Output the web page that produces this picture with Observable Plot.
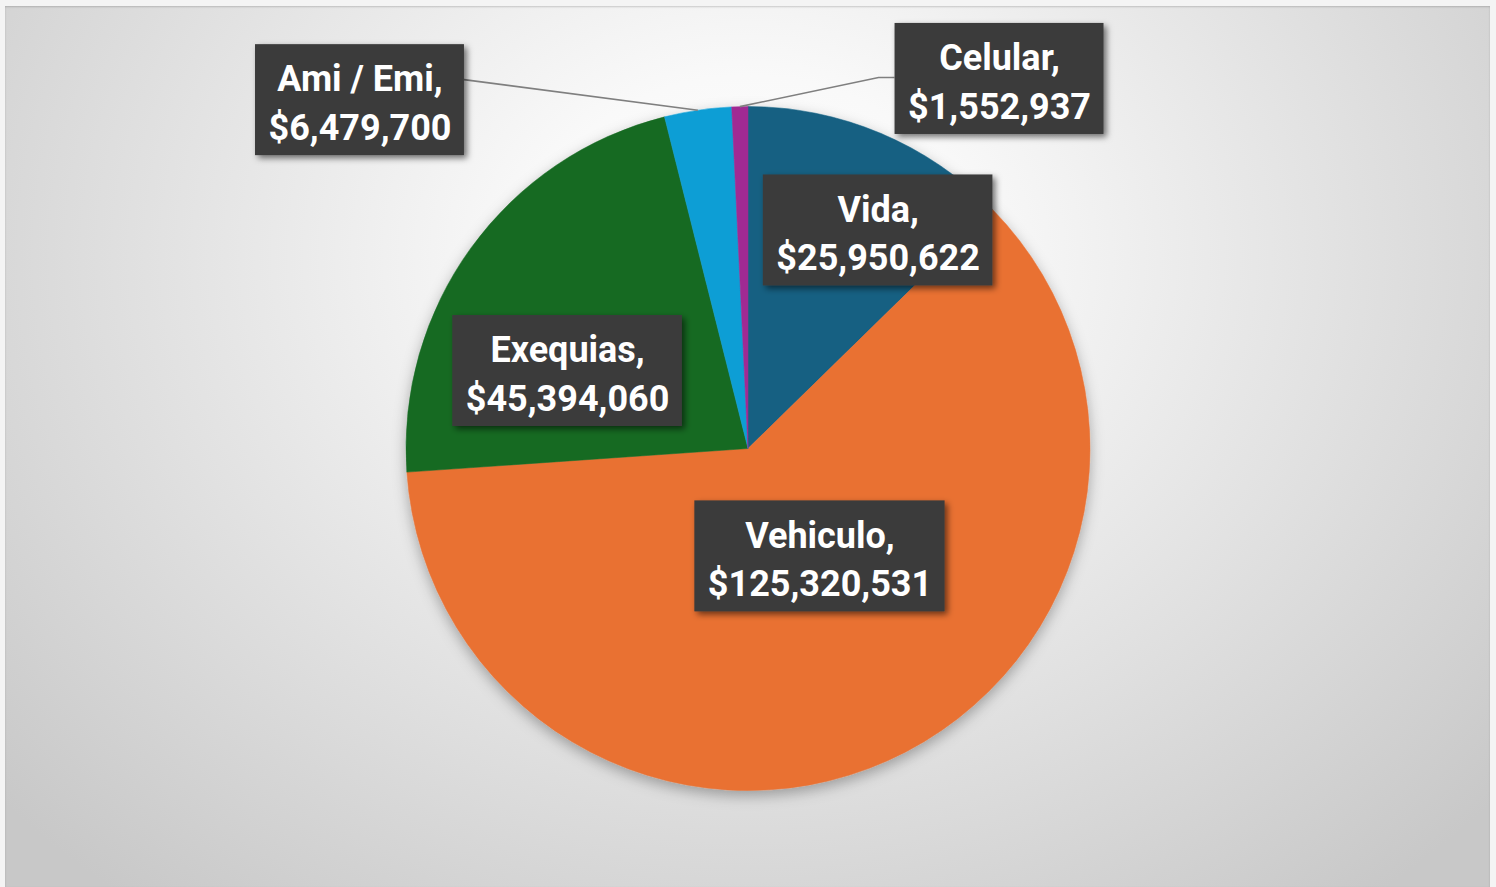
<!DOCTYPE html>
<html><head><meta charset="utf-8">
<script src="https://cdn.jsdelivr.net/npm/d3@7"></script>
<script src="https://cdn.jsdelivr.net/npm/@observablehq/plot@0.6"></script>
<style>
html,body{margin:0;padding:0;background:#f4f4f4;}
#frame{position:relative;width:1496px;height:887px;overflow:hidden;background:#f4f4f4;}
#bg{position:absolute;left:5px;top:6px;width:1485px;height:881px;
  background:radial-gradient(ellipse 1000px 820px at 743px 250px,#ffffff 0%,#f9f9f9 22%,#c8c8c8 100%);
  box-shadow: inset 0 1px 2px rgba(0,0,0,0.18);}
#chart{position:absolute;left:0;top:0;}
</style></head><body>
<div id="frame"><div id="bg"></div><div id="chart"></div></div>
<script>
// ---- data ----
const categories = ["Vida", "Vehiculo", "Exequias", "Ami / Emi", "Celular"];
const values = [25950622, 125320531, 45394060, 6479700, 1552937];
const colors = ["#156082", "#E97132", "#196B24", "#0F9ED5", "#A02B93"];

// ---- label placement (pie-radius units relative to the centre) ----
const labelPos = {
  "Vida": [0.379, -0.639],
  "Vehiculo": [0.209, 0.314],
  "Exequias": [-0.529, -0.228],
  "Ami / Emi": [-1.136, -1.020],
  "Celular": [0.734, -1.082]
};
const leaders = {
  "Ami / Emi": {side: "right", dy: -20, elbow: 0},
  "Celular": {side: "left", dy: -1, elbow: 16}
};

const fmt = d3.format(",");
const data = categories.map((name, i) => ({
  name, value: values[i], color: colors[i],
  lines: [name + ",", "$" + fmt(values[i])],
  lx: labelPos[name][0], ly: labelPos[name][1]
}));
const arcs = d3.pie().sort(null).value(d => d.value)(data);

const FONT_SIZE = 36, LINE_H = 1.34, PAD_X = 13, BOX_H = 111;
const ctx = document.createElement("canvas").getContext("2d");
ctx.font = `bold ${FONT_SIZE}px Roboto`;
const boxW = d => d3.max(d.lines, l => ctx.measureText(l).width) + 2 * PAD_X;

function defsMark() {
  const svg = d3.create("svg:g");
  const defs = svg.append("defs");
  const f1 = defs.append("filter").attr("id", "pieShadow").attr("x", "-20%").attr("y", "-20%").attr("width", "140%").attr("height", "140%");
  f1.append("feDropShadow").attr("dx", 0).attr("dy", 5).attr("stdDeviation", 7).attr("flood-color", "#000").attr("flood-opacity", 0.3);
  const f2 = defs.append("filter").attr("id", "boxShadow").attr("x", "-20%").attr("y", "-20%").attr("width", "140%").attr("height", "140%");
  f2.append("feDropShadow").attr("dx", 3).attr("dy", 3).attr("stdDeviation", 3).attr("flood-color", "#000").attr("flood-opacity", 0.55);
  return svg.node();
}

function pieMark(index, scales) {
  const cx = scales.x(0), cy = scales.y(0), r = scales.x(1) - scales.x(0);
  const arc = d3.arc().innerRadius(0).outerRadius(r);
  const g = d3.create("svg:g").attr("transform", `translate(${cx},${cy})`).attr("filter", "url(#pieShadow)");
  g.selectAll("path").data(arcs).join("path")
    .attr("d", arc).attr("fill", d => d.data.color)
    .attr("stroke", d => d.data.color).attr("stroke-width", 0.5);
  return g.node();
}

function leaderMark(index, scales) {
  const cx = scales.x(0), cy = scales.y(0), r = scales.x(1) - scales.x(0);
  const g = d3.create("svg:g").attr("fill", "none").attr("stroke", "#7f7f7f").attr("stroke-width", 1.6);
  for (const a of arcs) {
    const L = leaders[a.data.name];
    if (!L) continue;
    const ang = (a.startAngle + a.endAngle) / 2;
    const p0 = [cx + r * Math.sin(ang), cy - r * Math.cos(ang)];
    const bx = scales.x(a.data.lx), by = scales.y(a.data.ly), w = boxW(a.data);
    const ex = L.side === "right" ? bx + w / 2 : bx - w / 2;
    const ey = by + L.dy;
    const pts = [p0];
    if (L.elbow) pts.push([L.side === "left" ? ex - L.elbow : ex + L.elbow, ey]);
    pts.push([ex, ey]);
    g.append("path").attr("d", d3.line()(pts));
  }
  return g.node();
}

function boxMark(index, scales) {
  const g = d3.create("svg:g").attr("filter", "url(#boxShadow)");
  for (const d of data) {
    const w = boxW(d), x = scales.x(d.lx), y = scales.y(d.ly);
    g.append("rect").attr("x", x - w / 2).attr("y", y - BOX_H / 2)
      .attr("width", w).attr("height", BOX_H).attr("fill", "#3b3b3b");
  }
  return g.node();
}

const chart = Plot.plot({
  width: 1496, height: 887,
  marginLeft: 406, marginRight: 406, marginTop: 106.5, marginBottom: 96.5,
  x: {domain: [-1, 1], axis: null},
  y: {domain: [1, -1], axis: null},
  style: {background: "transparent", overflow: "visible"},
  marks: [
    defsMark,
    pieMark,
    leaderMark,
    boxMark,
    Plot.text(data, {
      x: "lx", y: "ly", text: d => d.lines.join("\n"),
      fill: "white", fontSize: FONT_SIZE, fontWeight: "bold",
      fontFamily: "Roboto", lineHeight: LINE_H, textAnchor: "middle"
    })
  ]
});
document.getElementById("chart").appendChild(chart);
</script>
</body></html>
